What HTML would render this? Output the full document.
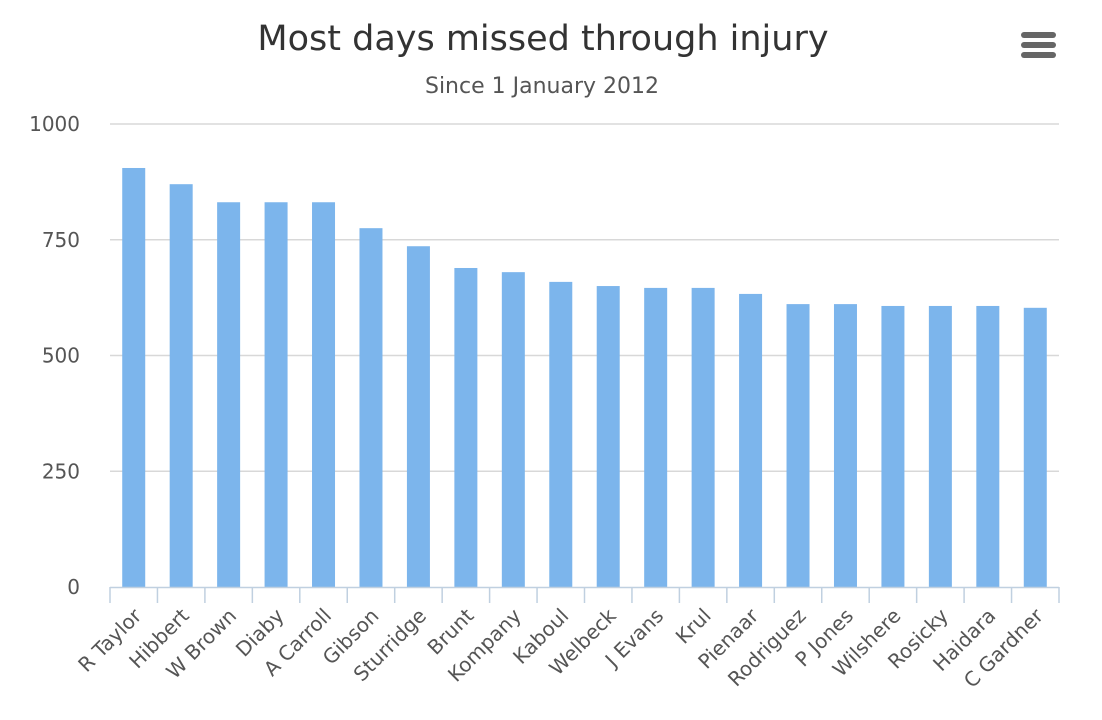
<!DOCTYPE html>
<html><head><meta charset="utf-8"><style>
body{margin:0;background:#fff;}
svg{display:block;font-family:"DejaVu Sans","Liberation Sans",sans-serif;}
</style></head><body>
<svg id="chart" width="1102" height="720" xmlns="http://www.w3.org/2000/svg">
<text x="543" y="50" text-anchor="middle" font-size="35" fill="#333">Most days missed through injury</text>
<text x="542" y="93" text-anchor="middle" font-size="22" fill="#555">Since 1 January 2012</text>
<g fill="#666">
<rect x="1021" y="32" width="35" height="6" rx="3"/><rect x="1021" y="42" width="35" height="6" rx="3"/><rect x="1021" y="52" width="35" height="6" rx="3"/>
</g>
<g id="grid"></g><g id="bars"></g><g id="xaxis"></g>
</svg>
<script>
const categories=["R Taylor","Hibbert","W Brown","Diaby","A Carroll","Gibson","Sturridge","Brunt","Kompany","Kaboul","Welbeck","J Evans","Krul","Pienaar","Rodriguez","P Jones","Wilshere","Rosicky","Haidara","C Gardner"];
const values=[905,870,831,831,831,775,736,689,680,659,650,646,646,633,611,611,607,607,607,603];
const yTicks=[0,250,500,750,1000];
const NS="http://www.w3.org/2000/svg";
const x0=110,x1=1059,y0=587,y1=124,yMax=1000;
const y=v=>y0-(v/yMax)*(y0-y1);
const bw=(x1-x0)/categories.length;
const xc=i=>x0+bw*(i+0.5);
function mk(t,a,p){const e=document.createElementNS(NS,t);for(const k in a)e.setAttribute(k,a[k]);p.appendChild(e);return e;}
const grid=document.getElementById('grid');
yTicks.forEach(t=>{
  if(t>0){const l=mk('line',{x1:x0,x2:x1,y1:y(t),y2:y(t),stroke:'#d8d8d8','stroke-width':1.5},grid);
  
  }
  const tx=mk('text',{x:80,y:y(t)+7,'text-anchor':'end','font-size':20,fill:'#555'},grid);
  tx.textContent=t;
  
  
});
const bars=document.getElementById('bars');
values.forEach((v,i)=>{
  const r=mk('rect',{x:xc(i)-11.5,y:y(v),width:23,height:y0-y(v),fill:'#7cb5ec'},bars);
  
  
});
const xa=document.getElementById('xaxis');
const ax=mk('line',{x1:x0,x2:x1,y1:y0+0.5,y2:y0+0.5,stroke:'#c0d0e0','stroke-width':1.5},xa);


for(let i=0;i<=categories.length;i++){
  const xx=x0+bw*i;
  mk('line',{x1:xx,x2:xx,y1:y0,y2:y0+16,stroke:'#c0d0e0','stroke-width':1.5},xa);
}
categories.forEach((c,i)=>{
  const px=xc(i)+9, py=y0+30;
  const tx=mk('text',{x:px,y:py,'text-anchor':'end','font-size':20,fill:'#555',transform:`rotate(-45 ${px} ${py})`},xa);
  tx.textContent=c;
  
  
});
</script>
</body></html>
